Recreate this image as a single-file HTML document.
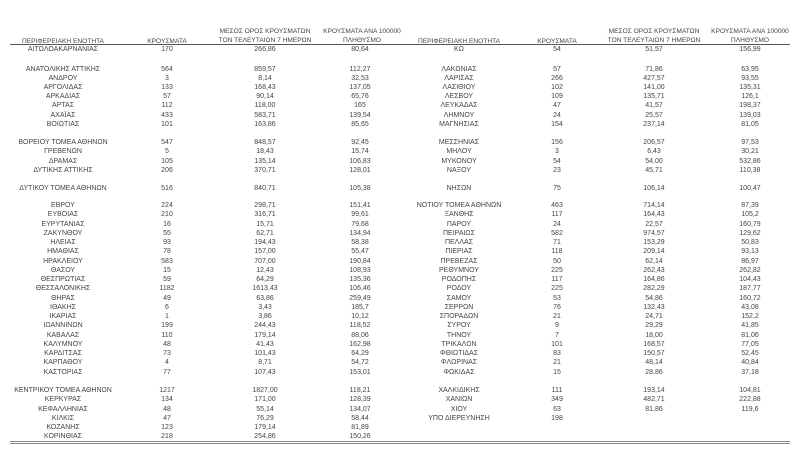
<!DOCTYPE html>
<html><head><meta charset="utf-8"><style>
body{margin:0;width:800px;height:450px;background:#fff;position:relative;overflow:hidden;font-family:"Liberation Sans","DejaVu Sans",sans-serif;font-size:7px;color:#444;}
.r{position:absolute;left:0;width:800px;height:9px;line-height:9px;}
.r span{position:absolute;text-align:center;white-space:nowrap;}
.a{left:3px;width:120px}.b{left:137px;width:60px}.c{left:225px;width:80px}.d{left:320px;width:80px}
.e{left:399px;width:120px}.f{left:527px;width:60px}.g{left:614px;width:80px}.h{left:710px;width:80px}
.hd{position:absolute;text-align:center;white-space:nowrap;line-height:9px;font-size:6.6px;color:#444}
</style></head><body>
<div class="hd" style="left:3px;width:120px;top:37px">ΠΕΡΙΦΕΡΕΙΑΚΗ ΕΝΟΤΗΤΑ</div>
<div class="hd" style="left:137px;width:60px;top:37px">ΚΡΟΥΣΜΑΤΑ</div>
<div class="hd" style="left:215px;width:100px;top:27px">ΜΕΣΟΣ ΟΡΟΣ ΚΡΟΥΣΜΑΤΩΝ<br>ΤΟΝ ΤΕΛΕΥΤΑΙΩΝ 7 ΗΜΕΡΩΝ</div>
<div class="hd" style="left:312px;width:100px;top:27px">ΚΡΟΥΣΜΑΤΑ ΑΝΑ 100000<br>ΠΛΗΘΥΣΜΟ</div>
<div class="hd" style="left:399px;width:120px;top:37px">ΠΕΡΙΦΕΡΕΙΑΚΗ ΕΝΟΤΗΤΑ</div>
<div class="hd" style="left:527px;width:60px;top:37px">ΚΡΟΥΣΜΑΤΑ</div>
<div class="hd" style="left:604px;width:100px;top:27px">ΜΕΣΟΣ ΟΡΟΣ ΚΡΟΥΣΜΑΤΩΝ<br>ΤΟΝ ΤΕΛΕΥΤΑΙΩΝ 7 ΗΜΕΡΩΝ</div>
<div class="hd" style="left:700px;width:100px;top:27px">ΚΡΟΥΣΜΑΤΑ ΑΝΑ 100000<br>ΠΛΗΘΥΣΜΟ</div>
<div style="position:absolute;left:10px;width:780px;top:43.5px;height:1.5px;background:#555"></div>
<div style="position:absolute;left:10px;width:780px;top:440.5px;height:1px;background:#888"></div>
<div style="position:absolute;left:10px;width:780px;top:442.5px;height:1px;background:#888"></div>

<div class="r" style="top:45px"><span class="a">ΑΙΤΩΛΟΑΚΑΡΝΑΝΙΑΣ</span><span class="b">170</span><span class="c">266,86</span><span class="d">80,64</span><span class="e">ΚΩ</span><span class="f">54</span><span class="g">51,57</span><span class="h">156,99</span></div>

<div class="r" style="top:64.5px"><span class="a">ΑΝΑΤΟΛΙΚΗΣ ΑΤΤΙΚΗΣ</span><span class="b">564</span><span class="c">859,57</span><span class="d">112,27</span><span class="e">ΛΑΚΩΝΙΑΣ</span><span class="f">57</span><span class="g">71,86</span><span class="h">63,95</span></div>
<div class="r" style="top:73.7px"><span class="a">ΑΝΔΡΟΥ</span><span class="b">3</span><span class="c">8,14</span><span class="d">32,53</span><span class="e">ΛΑΡΙΣΑΣ</span><span class="f">266</span><span class="g">427,57</span><span class="h">93,55</span></div>
<div class="r" style="top:82.9px"><span class="a">ΑΡΓΟΛΙΔΑΣ</span><span class="b">133</span><span class="c">168,43</span><span class="d">137,05</span><span class="e">ΛΑΣΙΘΙΟΥ</span><span class="f">102</span><span class="g">141,00</span><span class="h">135,31</span></div>
<div class="r" style="top:92.1px"><span class="a">ΑΡΚΑΔΙΑΣ</span><span class="b">57</span><span class="c">90,14</span><span class="d">65,76</span><span class="e">ΛΕΣΒΟΥ</span><span class="f">109</span><span class="g">135,71</span><span class="h">126,1</span></div>
<div class="r" style="top:101.3px"><span class="a">ΑΡΤΑΣ</span><span class="b">112</span><span class="c">118,00</span><span class="d">165</span><span class="e">ΛΕΥΚΑΔΑΣ</span><span class="f">47</span><span class="g">41,57</span><span class="h">198,37</span></div>
<div class="r" style="top:110.5px"><span class="a">ΑΧΑΪΑΣ</span><span class="b">433</span><span class="c">583,71</span><span class="d">139,54</span><span class="e">ΛΗΜΝΟΥ</span><span class="f">24</span><span class="g">25,57</span><span class="h">139,03</span></div>
<div class="r" style="top:119.7px"><span class="a">ΒΟΙΩΤΙΑΣ</span><span class="b">101</span><span class="c">163,86</span><span class="d">85,65</span><span class="e">ΜΑΓΝΗΣΙΑΣ</span><span class="f">154</span><span class="g">237,14</span><span class="h">81,05</span></div>

<div class="r" style="top:138.2px"><span class="a">ΒΟΡΕΙΟΥ ΤΟΜΕΑ ΑΘΗΝΩΝ</span><span class="b">547</span><span class="c">848,57</span><span class="d">92,45</span><span class="e">ΜΕΣΣΗΝΙΑΣ</span><span class="f">156</span><span class="g">206,57</span><span class="h">97,53</span></div>
<div class="r" style="top:147.4px"><span class="a">ΓΡΕΒΕΝΩΝ</span><span class="b">5</span><span class="c">18,43</span><span class="d">15,74</span><span class="e">ΜΗΛΟΥ</span><span class="f">3</span><span class="g">6,43</span><span class="h">30,21</span></div>
<div class="r" style="top:156.6px"><span class="a">ΔΡΑΜΑΣ</span><span class="b">105</span><span class="c">135,14</span><span class="d">106,83</span><span class="e">ΜΥΚΟΝΟΥ</span><span class="f">54</span><span class="g">54,00</span><span class="h">532,86</span></div>
<div class="r" style="top:165.8px"><span class="a">ΔΥΤΙΚΗΣ ΑΤΤΙΚΗΣ</span><span class="b">206</span><span class="c">370,71</span><span class="d">128,01</span><span class="e">ΝΑΞΟΥ</span><span class="f">23</span><span class="g">45,71</span><span class="h">110,38</span></div>

<div class="r" style="top:183.8px"><span class="a">ΔΥΤΙΚΟΥ ΤΟΜΕΑ ΑΘΗΝΩΝ</span><span class="b">516</span><span class="c">840,71</span><span class="d">105,38</span><span class="e">ΝΗΣΩΝ</span><span class="f">75</span><span class="g">106,14</span><span class="h">100,47</span></div>

<div class="r" style="top:201.2px"><span class="a">ΕΒΡΟΥ</span><span class="b">224</span><span class="c">298,71</span><span class="d">151,41</span><span class="e">ΝΟΤΙΟΥ ΤΟΜΕΑ ΑΘΗΝΩΝ</span><span class="f">463</span><span class="g">714,14</span><span class="h">87,39</span></div>
<div class="r" style="top:210.45px"><span class="a">ΕΥΒΟΙΑΣ</span><span class="b">210</span><span class="c">316,71</span><span class="d">99,61</span><span class="e">ΞΑΝΘΗΣ</span><span class="f">117</span><span class="g">164,43</span><span class="h">105,2</span></div>
<div class="r" style="top:219.7px"><span class="a">ΕΥΡΥΤΑΝΙΑΣ</span><span class="b">16</span><span class="c">15,71</span><span class="d">79,68</span><span class="e">ΠΑΡΟΥ</span><span class="f">24</span><span class="g">22,57</span><span class="h">160,79</span></div>
<div class="r" style="top:228.95px"><span class="a">ΖΑΚΥΝΘΟΥ</span><span class="b">55</span><span class="c">62,71</span><span class="d">134,94</span><span class="e">ΠΕΙΡΑΙΩΣ</span><span class="f">582</span><span class="g">974,57</span><span class="h">129,62</span></div>
<div class="r" style="top:238.2px"><span class="a">ΗΛΕΙΑΣ</span><span class="b">93</span><span class="c">194,43</span><span class="d">58,38</span><span class="e">ΠΕΛΛΑΣ</span><span class="f">71</span><span class="g">153,29</span><span class="h">50,83</span></div>
<div class="r" style="top:247.45px"><span class="a">ΗΜΑΘΙΑΣ</span><span class="b">78</span><span class="c">157,00</span><span class="d">55,47</span><span class="e">ΠΙΕΡΙΑΣ</span><span class="f">118</span><span class="g">209,14</span><span class="h">93,13</span></div>
<div class="r" style="top:256.7px"><span class="a">ΗΡΑΚΛΕΙΟΥ</span><span class="b">583</span><span class="c">707,00</span><span class="d">190,84</span><span class="e">ΠΡΕΒΕΖΑΣ</span><span class="f">50</span><span class="g">62,14</span><span class="h">86,97</span></div>
<div class="r" style="top:265.95px"><span class="a">ΘΑΣΟΥ</span><span class="b">15</span><span class="c">12,43</span><span class="d">108,93</span><span class="e">ΡΕΘΥΜΝΟΥ</span><span class="f">225</span><span class="g">262,43</span><span class="h">262,82</span></div>
<div class="r" style="top:275.2px"><span class="a">ΘΕΣΠΡΩΤΙΑΣ</span><span class="b">59</span><span class="c">64,29</span><span class="d">135,36</span><span class="e">ΡΟΔΟΠΗΣ</span><span class="f">117</span><span class="g">164,86</span><span class="h">104,43</span></div>
<div class="r" style="top:284.45px"><span class="a">ΘΕΣΣΑΛΟΝΙΚΗΣ</span><span class="b">1182</span><span class="c">1613,43</span><span class="d">106,46</span><span class="e">ΡΟΔΟΥ</span><span class="f">225</span><span class="g">282,29</span><span class="h">187,77</span></div>
<div class="r" style="top:293.7px"><span class="a">ΘΗΡΑΣ</span><span class="b">49</span><span class="c">63,86</span><span class="d">259,49</span><span class="e">ΣΑΜΟΥ</span><span class="f">53</span><span class="g">54,86</span><span class="h">160,72</span></div>
<div class="r" style="top:302.95px"><span class="a">ΙΘΑΚΗΣ</span><span class="b">6</span><span class="c">3,43</span><span class="d">185,7</span><span class="e">ΣΕΡΡΩΝ</span><span class="f">76</span><span class="g">132,43</span><span class="h">43,08</span></div>
<div class="r" style="top:312.2px"><span class="a">ΙΚΑΡΙΑΣ</span><span class="b">1</span><span class="c">3,86</span><span class="d">10,12</span><span class="e">ΣΠΟΡΑΔΩΝ</span><span class="f">21</span><span class="g">24,71</span><span class="h">152,2</span></div>
<div class="r" style="top:321.45px"><span class="a">ΙΩΑΝΝΙΝΩΝ</span><span class="b">199</span><span class="c">244,43</span><span class="d">118,52</span><span class="e">ΣΥΡΟΥ</span><span class="f">9</span><span class="g">29,29</span><span class="h">41,85</span></div>
<div class="r" style="top:330.7px"><span class="a">ΚΑΒΑΛΑΣ</span><span class="b">110</span><span class="c">179,14</span><span class="d">88,06</span><span class="e">ΤΗΝΟΥ</span><span class="f">7</span><span class="g">18,00</span><span class="h">81,06</span></div>
<div class="r" style="top:339.95px"><span class="a">ΚΑΛΥΜΝΟΥ</span><span class="b">48</span><span class="c">41,43</span><span class="d">162,98</span><span class="e">ΤΡΙΚΑΛΩΝ</span><span class="f">101</span><span class="g">168,57</span><span class="h">77,05</span></div>
<div class="r" style="top:349.2px"><span class="a">ΚΑΡΔΙΤΣΑΣ</span><span class="b">73</span><span class="c">101,43</span><span class="d">64,29</span><span class="e">ΦΘΙΩΤΙΔΑΣ</span><span class="f">83</span><span class="g">150,57</span><span class="h">52,45</span></div>
<div class="r" style="top:358.45px"><span class="a">ΚΑΡΠΑΘΟΥ</span><span class="b">4</span><span class="c">8,71</span><span class="d">54,72</span><span class="e">ΦΛΩΡΙΝΑΣ</span><span class="f">21</span><span class="g">48,14</span><span class="h">40,84</span></div>
<div class="r" style="top:367.7px"><span class="a">ΚΑΣΤΟΡΙΑΣ</span><span class="b">77</span><span class="c">107,43</span><span class="d">153,01</span><span class="e">ΦΩΚΙΔΑΣ</span><span class="f">15</span><span class="g">28,86</span><span class="h">37,18</span></div>

<div class="r" style="top:386.2px"><span class="a">ΚΕΝΤΡΙΚΟΥ ΤΟΜΕΑ ΑΘΗΝΩΝ</span><span class="b">1217</span><span class="c">1827,00</span><span class="d">118,21</span><span class="e">ΧΑΛΚΙΔΙΚΗΣ</span><span class="f">111</span><span class="g">193,14</span><span class="h">104,81</span></div>
<div class="r" style="top:395.4px"><span class="a">ΚΕΡΚΥΡΑΣ</span><span class="b">134</span><span class="c">171,00</span><span class="d">128,39</span><span class="e">ΧΑΝΙΩΝ</span><span class="f">349</span><span class="g">482,71</span><span class="h">222,88</span></div>
<div class="r" style="top:404.6px"><span class="a">ΚΕΦΑΛΛΗΝΙΑΣ</span><span class="b">48</span><span class="c">55,14</span><span class="d">134,07</span><span class="e">ΧΙΟΥ</span><span class="f">63</span><span class="g">81,86</span><span class="h">119,6</span></div>
<div class="r" style="top:413.8px"><span class="a">ΚΙΛΚΙΣ</span><span class="b">47</span><span class="c">76,29</span><span class="d">58,44</span><span class="e">ΥΠΟ ΔΙΕΡΕΥΝΗΣΗ</span><span class="f">198</span></div>
<div class="r" style="top:423px"><span class="a">ΚΟΖΑΝΗΣ</span><span class="b">123</span><span class="c">179,14</span><span class="d">81,89</span></div>
<div class="r" style="top:432.2px"><span class="a">ΚΟΡΙΝΘΙΑΣ</span><span class="b">218</span><span class="c">254,86</span><span class="d">150,26</span></div>
</body></html>
